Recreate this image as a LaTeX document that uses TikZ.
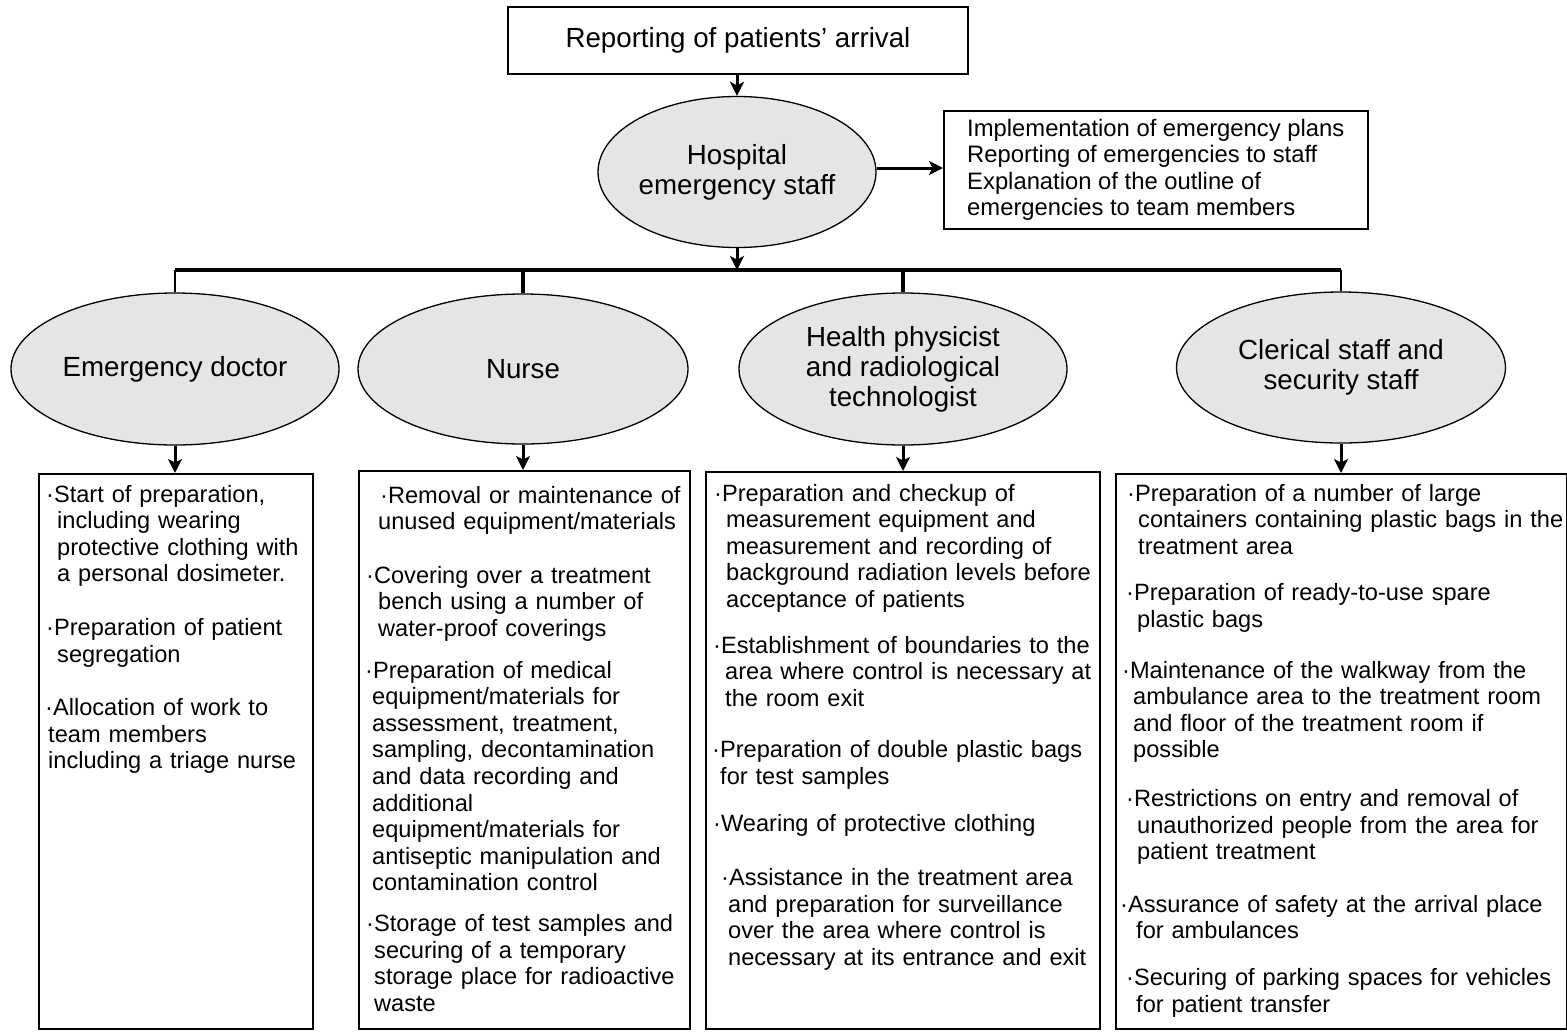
\documentclass[tikz,border=0pt]{standalone}
\usepackage{fontspec}
\setmainfont{Liberation Sans}
\usetikzlibrary{arrows.meta,shapes.geometric}

\begin{document}
\begin{tikzpicture}
  [x=1pt,y=-1pt,
   every node/.style={inner sep=0pt},
   head/.style={draw=black,line width=1.5pt,minimum width=460pt,minimum height=67pt,
     font=\fontsize{27.7}{30}\selectfont},
   role/.style={ellipse,draw=black,line width=1.3pt,fill=black!10,align=center,
     font=\fontsize{27.7}{30}\selectfont},
   duty/.style={draw=black,line width=1.5pt,anchor=north west},
   dutytext/.style={anchor=base west,align=left,text width=520pt,
     font=\fontsize{23.6}{26.6}\selectfont},
   arr/.style={line width=3pt,-{Stealth[length=14pt,width=14pt,inset=3.5pt]}},
   bar/.style={line width=4pt}]

  \useasboundingbox (0,0) rectangle (1567,1034);

  \node[head] (report) at (738,40.5) {Reporting of patients’ arrival};
  \node[role,minimum width=277pt,minimum height=151pt] (hosp) at (737,172) {Hospital\\emergency staff};
  \node[duty,inner xsep=18pt,minimum width=424pt,minimum height=118pt,align=left,
    font=\fontsize{23.8}{26.3}\selectfont] (plans) at (943,110)
    {Implementation of emergency plans\\
     Reporting of emergencies to staff\\
     Explanation of the outline of\\
     emergencies to team members};

  \node[role,minimum width=328pt,minimum height=152pt] (doc) at (175,369) {Emergency doctor};
  \node[role,minimum width=330pt,minimum height=150pt] (nurse) at (523,369) {Nurse};
  \node[role,minimum width=328pt,minimum height=152pt] (phys) at (903,369)
    {Health physicist\\and radiological\\technologist};
  \node[role,minimum width=329pt,minimum height=151pt] (cler) at (1341,367.5)
    {Clerical staff and\\security staff};

  \node[duty,minimum width=274pt,minimum height=555pt] (docbox) at (38,473) {};
  \node[duty,minimum width=331pt,minimum height=558pt] (nursebox) at (358,470) {};
  \node[duty,minimum width=394pt,minimum height=557pt] (physbox) at (705,471) {};
  \node[duty,minimum width=450.5pt,minimum height=555pt] (clerbox) at (1115,473) {};

  \node[dutytext] (doctext) at (38,502)
    {\hspace*{8pt}·Start of preparation,\\
     \hspace*{19pt}including wearing\\
     \hspace*{19pt}protective clothing with\\
     \hspace*{19pt}a personal dosimeter.\\[27pt]
     \hspace*{8pt}·Preparation of patient\\
     \hspace*{19pt}segregation\\[27pt]
     \hspace*{7pt}·Allocation of work to\\
     \hspace*{10pt}team members\\
     \hspace*{10pt}including a triage nurse};

  \node[dutytext] (nursetext) at (358,503)
    {\hspace*{22pt}·Removal or maintenance of\\
     \hspace*{20pt}unused equipment/materials\\[27pt]
     \hspace*{8pt}·Covering over a treatment\\
     \hspace*{20pt}bench using a number of\\
     \hspace*{20pt}water-proof coverings\\[15pt]
     \hspace*{7pt}·Preparation of medical\\
     \hspace*{14pt}equipment/materials for\\
     \hspace*{14pt}assessment, treatment,\\
     \hspace*{14pt}sampling, decontamination\\
     \hspace*{14pt}and data recording and\\
     \hspace*{14pt}additional\\
     \hspace*{14pt}equipment/materials for\\
     \hspace*{14pt}antiseptic manipulation and\\
     \hspace*{14pt}contamination control\\[14pt]
     \hspace*{8pt}·Storage of test samples and\\
     \hspace*{16pt}securing of a temporary\\
     \hspace*{16pt}storage place for radioactive\\
     \hspace*{16pt}waste};

  \node[dutytext] (phystext) at (705,501)
    {\hspace*{9pt}·Preparation and checkup of\\
     \hspace*{21pt}measurement equipment and\\
     \hspace*{21pt}measurement and recording of\\
     \hspace*{21pt}background radiation levels before\\
     \hspace*{21pt}acceptance of patients\\[19pt]
     \hspace*{8pt}·Establishment of boundaries to the\\
     \hspace*{20pt}area where control is necessary at\\
     \hspace*{20pt}the room exit\\[25pt]
     \hspace*{7pt}·Preparation of double plastic bags\\
     \hspace*{15pt}for test samples\\[20pt]
     \hspace*{8pt}·Wearing of protective clothing\\[28pt]
     \hspace*{16pt}·Assistance in the treatment area\\
     \hspace*{23pt}and preparation for surveillance\\
     \hspace*{23pt}over the area where control is\\
     \hspace*{23pt}necessary at its entrance and exit};

  \node[dutytext] (clertext) at (1115,501)
    {\hspace*{12pt}·Preparation of a number of large\\
     \hspace*{23pt}containers containing plastic bags in the\\
     \hspace*{23pt}treatment area\\[20pt]
     \hspace*{11pt}·Preparation of ready-to-use spare\\
     \hspace*{22pt}plastic bags\\[24pt]
     \hspace*{7pt}·Maintenance of the walkway from the\\
     \hspace*{18pt}ambulance area to the treatment room\\
     \hspace*{18pt}and floor of the treatment room if\\
     \hspace*{18pt}possible\\[22pt]
     \hspace*{11pt}·Restrictions on entry and removal of\\
     \hspace*{22pt}unauthorized people from the area for\\
     \hspace*{22pt}patient treatment\\[26pt]
     \hspace*{5pt}·\makebox[423pt][s]{Assurance of safety at the arrival place}\\
     \hspace*{21pt}for ambulances\\[20pt]
     \hspace*{11pt}·Securing of parking spaces for vehicles\\
     \hspace*{21pt}for patient transfer};

  \coordinate (barL) at (175,270);
  \coordinate (barR) at (1341,270);

  \draw[arr] (hosp.north |- report.south) -- (hosp.north);
  \draw[arr] ([yshift=4pt]hosp.east) -- ([yshift=4pt]hosp.east -| plans.west);
  \draw[arr] (hosp.south) -- (hosp.south |- barL);
  \draw[bar] (barL) -- (barR);

  \draw[line width=2.5pt] (doc.north |- barL) -- (doc.north);
  \draw[line width=4pt] (nurse.north |- barL) -- (nurse.north);
  \draw[line width=4pt] (phys.north |- barL) -- (phys.north);
  \draw[line width=2.5pt] (cler.north |- barL) -- (cler.north);

  \draw[arr] (doc.south) -- (doc.south |- docbox.north);
  \draw[arr] (nurse.south) -- (nurse.south |- nursebox.north);
  \draw[arr] (phys.south) -- (phys.south |- physbox.north);
  \draw[arr] (cler.south) -- (cler.south |- clerbox.north);
\end{tikzpicture}
\end{document}
